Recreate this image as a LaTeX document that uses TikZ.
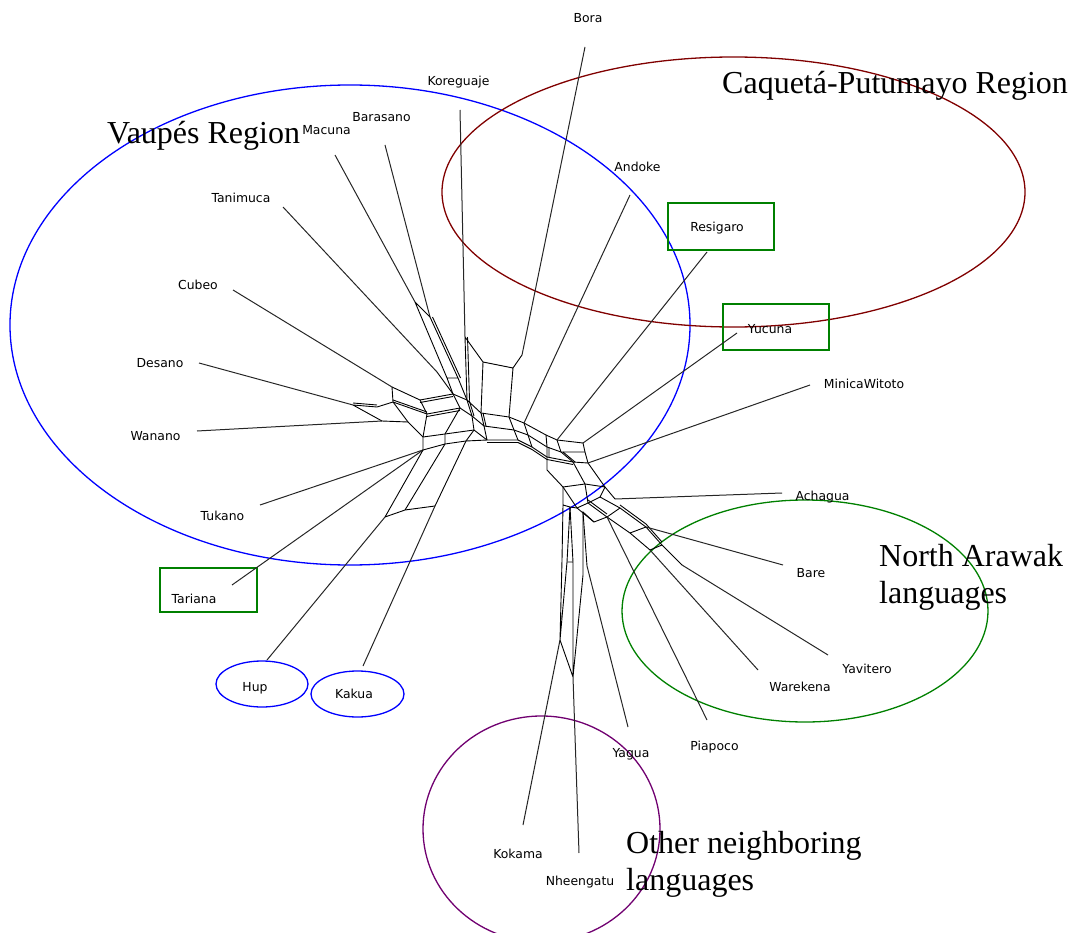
\documentclass[tikz,border=0pt]{standalone}
\usepackage{fontspec}
\setmainfont{Liberation Serif}
\newfontfamily\labfont{DejaVu Sans}
\definecolor{vblue}{RGB}{0,0,255}
\definecolor{cred}{RGB}{128,0,0}
\definecolor{ngreen}{RGB}{0,128,0}
\definecolor{opurple}{RGB}{112,0,112}
\begin{document}
\begin{tikzpicture}[x=1pt,y=-1pt,
  lang/.style={font=\labfont\fontsize{12.4}{14}\selectfont, inner sep=0pt, text=black, anchor=base},
  region/.style={font=\fontsize{32}{37}\selectfont, inner sep=0pt, anchor=base west},
  leaf/.style={draw=black!85, line width=1pt},
  net/.style={draw=black, line width=0.9pt},
  greenbox/.style={draw=ngreen, line width=1.3pt, inner sep=0pt},
  grp/.style={line width=1.3pt}]
\useasboundingbox (0,0) rectangle (1073,933);
\begin{scope}
\clip (0,0) rectangle (1073,933);
% group ellipses
\draw[grp, vblue] (350,325) ellipse [x radius=340pt, y radius=240pt];
\draw[grp, cred] (733.5,192) ellipse [x radius=291.5pt, y radius=135pt];
\draw[grp, ngreen] (805,611) ellipse [x radius=183pt, y radius=111pt];
\draw[grp, opurple] (541.5,829) ellipse [x radius=118.5pt, y radius=113pt];
\draw[grp, vblue] (262,684) ellipse [x radius=46pt, y radius=23pt];
\draw[grp, vblue] (357.5,694) ellipse [x radius=46.5pt, y radius=23pt];
\end{scope}
% green boxes
\node[greenbox, minimum width=97pt, minimum height=44pt] (bTariana) at (208.5,590) {};
\node[greenbox, minimum width=106pt, minimum height=47pt] (bResigaro) at (721,226.5) {};
\node[greenbox, minimum width=106pt, minimum height=46pt] (bYucuna) at (776,327) {};
% region titles
\node[region] (tVaupes) at (107,144) {Vaupés Region};
\node[region] (tCaqueta) at (722,94) {Caquetá-Putumayo Region};
\node[region] (tNA1) at (879,566) {North Arawak};
\node[region] (tNA2) at (879,603) {languages};
\node[region] (tON1) at (626,853) {Other neighboring};
\node[region] (tON2) at (626,890) {languages};
% language labels
\node[lang] (Bora) at (588,23) {Bora};
\node[lang] (Koreguaje) at (458.5,86) {Koreguaje};
\node[lang] (Barasano) at (381.5,122) {Barasano};
\node[lang] (Macuna) at (326.5,135) {Macuna};
\node[lang] (Tanimuca) at (241,203) {Tanimuca};
\node[lang] (Cubeo) at (198,290) {Cubeo};
\node[lang] (Desano) at (160,367) {Desano};
\node[lang] (Wanano) at (155.5,440) {Wanano};
\node[lang] (Tukano) at (222.5,520) {Tukano};
\node[lang] (Tariana) at (194,603) {Tariana};
\node[lang] (Hup) at (255,691) {Hup};
\node[lang] (Kakua) at (354,698) {Kakua};
\node[lang] (Andoke) at (637.5,172) {Andoke};
\node[lang] (Resigaro) at (717,232) {Resigaro};
\node[lang] (Yucuna) at (770,333) {Yucuna};
\node[lang] (MinicaWitoto) at (864,388) {MinicaWitoto};
\node[lang] (Achagua) at (822.5,500) {Achagua};
\node[lang] (Bare) at (811,577) {Bare};
\node[lang] (Yavitero) at (867,673) {Yavitero};
\node[lang] (Warekena) at (800,691) {Warekena};
\node[lang] (Piapoco) at (714.5,750) {Piapoco};
\node[lang] (Yagua) at (631,757) {Yagua};
\node[lang] (Kokama) at (518,858) {Kokama};
\node[lang] (Nheengatu) at (580,885) {Nheengatu};
% leaf ends (outer)
\coordinate (eBora) at (585,47);
\coordinate (eKoreguaje) at (460,110);
\coordinate (eBarasano) at (385,145);
\coordinate (eMacuna) at (335,155);
\coordinate (eTanimuca) at (283,207);
\coordinate (eCubeo) at (233,290);
\coordinate (eDesano) at (199,363);
\coordinate (eWanano) at (197,431);
\coordinate (eTukano) at (260,505);
\coordinate (eTariana) at (232,585);
\coordinate (eHup) at (267,660);
\coordinate (eKakua) at (363,666);
\coordinate (eAndoke) at (630,195);
\coordinate (eResigaro) at (707,252);
\coordinate (eYucuna) at (737,333);
\coordinate (eMinica) at (810,385);
\coordinate (eAchagua) at (782,493);
\coordinate (eBare) at (783,565);
\coordinate (eYavitero) at (828,655);
\coordinate (eWarekena) at (758,670);
\coordinate (ePiapoco) at (707,720);
\coordinate (eYagua) at (628,727);
\coordinate (eKokama) at (523,825);
\coordinate (eNheengatu) at (579,853);
% band strands
\coordinate (U0) at (392,387); \coordinate (U1) at (420,400); \coordinate (U2) at (453,394);
\coordinate (U3) at (467,400); \coordinate (U4) at (481,413); \coordinate (U5) at (509,417);
\coordinate (U6) at (524,423); \coordinate (U7) at (546,435); \coordinate (U8) at (557,440);
\coordinate (U9) at (583,443);
\coordinate (M0) at (393,402); \coordinate (M1) at (427,414); \coordinate (M2) at (460,408);
\coordinate (M3) at (472,416); \coordinate (M4) at (484,426); \coordinate (M5) at (514,430);
\coordinate (M6) at (528,435); \coordinate (M7) at (547,447); \coordinate (M8) at (561,452);
\coordinate (M9) at (585,452);
\coordinate (L0) at (408,422); \coordinate (L1) at (423,437); \coordinate (L2) at (445,434);
\coordinate (L3) at (474,430); \coordinate (L4) at (487,440); \coordinate (L5) at (518,440);
\coordinate (L6) at (532,447); \coordinate (L7) at (547,457); \coordinate (L8) at (573,462);
\coordinate (L9) at (588,463);
\coordinate (LL0) at (423,450); \coordinate (LL1) at (445,444); \coordinate (LL2) at (466,441);
\draw[net] (U0) -- (U1) -- (U2) -- (U3) -- (U4) -- (U5) -- (U6) -- (U7) -- (U8) -- (U9);
\draw[net] (M0) -- (M1) -- (M2) -- (M3) -- (M4) -- (M5) -- (M6) -- (M7) -- (M8) -- (M9);
\draw[net] (L0) -- (L1) -- (L2) -- (L3) -- (L4) -- (L5) -- (L6) -- (L7) -- (L8) -- (L9);
\draw[net] (LL0) -- (LL1) -- (LL2) -- (L4);
\foreach \i in {0,...,9} {\draw[net] (U\i) -- (M\i) -- (L\i);}
\draw[net] (LL0) -- (L1) (LL1) -- (L2) (LL2) -- (L3);
% extra parallel strands (thick bands)
\draw[net, transform canvas={yshift=-2.5pt}] (U1) -- (U2) (M1) -- (M2) (L4) -- (L5) -- (L6) -- (L7) -- (L8);
\draw[net, transform canvas={xshift=2pt}] (U3) -- (M3) (U4) -- (M4) (M7) -- (L7) (M8) -- (L8);
% left cluster
\coordinate (D0) at (353,405); \coordinate (D1) at (377,407); \coordinate (W1) at (382,421);
\draw[leaf] (eCubeo) -- (U0);
\draw[leaf] (eDesano) -- (D0);
\draw[net] (D0) -- (D1) -- (M0) (D0) -- (W1) -- (L0);
\draw[net, transform canvas={yshift=2pt}] (D0) -- (D1) (M0) -- (M1);
\draw[leaf] (eWanano) -- (W1);
\draw[leaf] (eTukano) -- (LL0);
\draw[leaf] (eTariana) -- (LL0);
% Hup / Kakua
\coordinate (H1) at (385,517); \coordinate (H2) at (405,510); \coordinate (H3) at (435,506);
\draw[leaf] (eHup) -- (H1);
\draw[net] (H1) -- (LL0) (H2) -- (LL1) (H1) -- (H2) -- (H3) -- (LL2);
\draw[leaf] (eKakua) -- (H3);
% top-left leaves
\coordinate (T0) at (437,372); \coordinate (MA) at (415,302); \coordinate (BA) at (430,317);
\coordinate (MB) at (447,378); \coordinate (BB) at (458,378);
\draw[leaf] (eTanimuca) -- (T0);
\draw[net] (T0) -- (U2);
\draw[leaf] (eMacuna) -- (MA);
\draw[leaf] (eBarasano) -- (BA);
\draw[net] (MA) -- (BA) (MA) -- (MB) (BA) -- (BB) (MB) -- (BB) (MB) -- (U2) (BB) -- (U3);
\draw[net, transform canvas={xshift=2.5pt}] (BA) -- (BB);
% Koreguaje / Bora
\coordinate (KA) at (465,337); \coordinate (KB) at (483,362);
\coordinate (BoA) at (522,355); \coordinate (BoB) at (513,368);
\draw[leaf] (eKoreguaje) -- (KA);
\draw[net] (KA) -- (U3) (KA) -- (KB) (KB) -- (U4) (KB) -- (BoB) (BoA) -- (BoB) -- (U5);
\draw[net, transform canvas={xshift=2.5pt}] (KA) -- (U3);
\draw[leaf] (eBora) -- (BoA);
% right upper leaves
\draw[leaf] (eAndoke) -- (U6);
\draw[leaf] (eResigaro) -- (U8);
\draw[leaf] (eYucuna) -- (U9);
\draw[leaf] (eMinica) -- (L9);
% lower-right cluster
\coordinate (R1a) at (547,470); \coordinate (R1b) at (563,487);
\coordinate (R2b) at (585,484); \coordinate (R3b) at (605,487);
\coordinate (A0) at (615,499);
\draw[net] (L7) -- (R1a) -- (R1b) (L8) -- (R2b) (L9) -- (R3b) (R1b) -- (R2b) -- (R3b) -- (A0);
\draw[leaf] (eAchagua) -- (A0);
% fan rows
\coordinate (a0) at (600,497); \coordinate (a1) at (620,508); \coordinate (a2) at (646,527);
\coordinate (a3) at (662,545); \coordinate (a4) at (682,565);
\coordinate (b0) at (588,503); \coordinate (b1) at (607,517); \coordinate (b2) at (630,533);
\coordinate (b3) at (650,550);
\coordinate (c0) at (577,508); \coordinate (c1) at (594,522);
\draw[net] (R3b) -- (a0) -- (a1) -- (a2) -- (a3) -- (a4);
\draw[net] (R2b) -- (b0) -- (b1) -- (b2) -- (b3);
\draw[net] (R1b) -- (c0) -- (c1);
\draw[net] (a0) -- (b0) -- (c0) (a1) -- (b1) -- (c1) (a2) -- (b2) (a3) -- (b3);
\draw[net, transform canvas={yshift=3pt}] (a1) -- (a2) -- (a3) (b0) -- (b1);
\draw[leaf] (eBare) -- (a2);
\draw[leaf] (eYavitero) -- (a4);
\draw[leaf] (eWarekena) -- (b3);
\draw[leaf] (ePiapoco) -- (b1);
% vertical bundle
\coordinate (VA) at (563,505); \coordinate (VB) at (570,507); \coordinate (VD) at (583,512);
\coordinate (VA2) at (562,560); \coordinate (VB2) at (567,562); \coordinate (VC2) at (573,562);
\coordinate (VD2) at (583,575); \coordinate (YgE) at (587,566);
\coordinate (K0) at (560,640); \coordinate (N0) at (573,677);
\draw[net] (R1b) -- (VA) -- (VA2) -- (K0) (c0) -- (VB) -- (VB2) -- (K0) (VA) -- (VB);
\draw[net] (VB) -- (VC2) -- (N0) (c1) -- (VD) -- (VD2) -- (N0) (K0) -- (N0) (VB2) -- (VC2);
\draw[net] (VD) -- (YgE);
\draw[leaf] (eYagua) -- (YgE);
\draw[leaf] (eKokama) -- (K0);
\draw[leaf] (eNheengatu) -- (N0);
\end{tikzpicture}
\end{document}
